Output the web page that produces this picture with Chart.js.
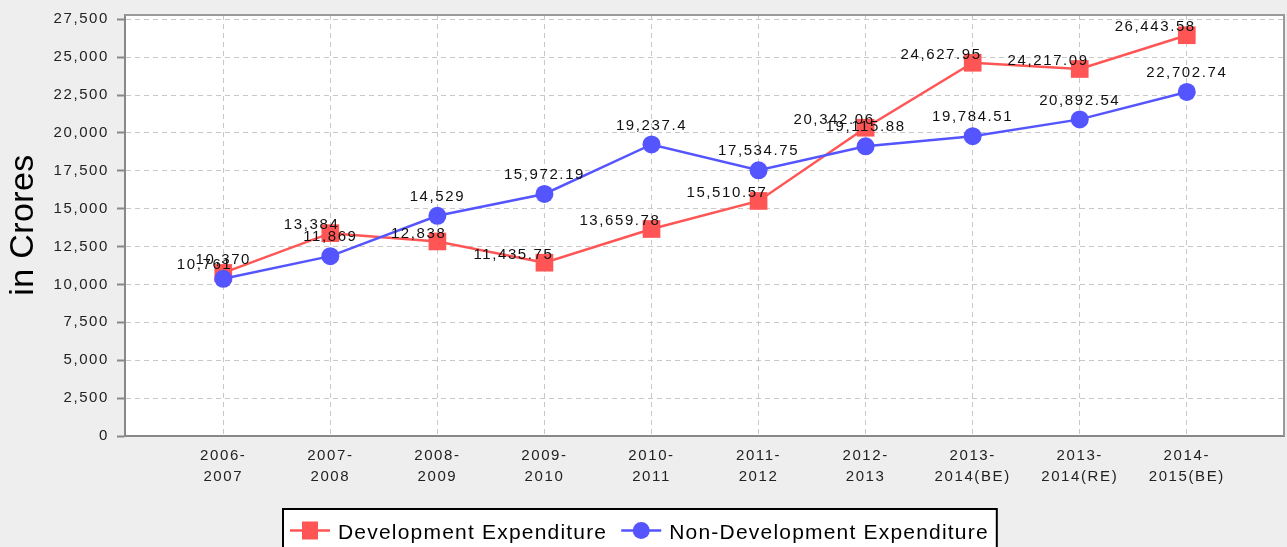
<!DOCTYPE html>
<html><head><meta charset="utf-8">
<script src="https://cdn.jsdelivr.net/npm/chart.js@4/dist/chart.umd.min.js"></script>
<style>html,body{margin:0;padding:0;background:#eeeeee;overflow:hidden;} canvas{display:block;}</style>
</head><body>
<canvas id="c" width="1287" height="547"></canvas>
<script>
const categories = ['2006-2007','2007-2008','2008-2009','2009-2010','2010-2011','2011-2012','2012-2013','2013-2014(BE)','2013-2014(RE)','2014-2015(BE)'];
const developmentExpenditure = [10761, 13384, 12838, 11435.75, 13659.78, 15510.57, 20342.06, 24627.95, 24217.09, 26443.58];
const nonDevelopmentExpenditure = [10370, 11869, 14529, 15972.19, 19237.4, 17534.75, 19115.88, 19784.51, 20892.54, 22702.74];
const yTickValues = [0, 2500, 5000, 7500, 10000, 12500, 15000, 17500, 20000, 22500, 25000, 27500];
const seriesNames = ['Development Expenditure', 'Non-Development Expenditure'];
const yAxisTitle = 'in Crores';

const FONT = '"Liberation Sans", Arial, Helvetica, sans-serif';
const RED = '#ff5555';
const BLUE = '#5555ff';
const LS = '1.6px';
const fmt = v => v.toLocaleString('en-US', {maximumFractionDigits: 2});

const basePlugin = {
  id: 'base',
  beforeUpdate(chart) { chart.ctx.letterSpacing = LS; },
  beforeLayout(chart) { chart.ctx.letterSpacing = LS; },
  beforeDraw(chart) {
    const {ctx, chartArea: a} = chart;
    ctx.letterSpacing = LS;
    ctx.save();
    ctx.fillStyle = '#ffffff';
    ctx.fillRect(a.left, a.top, a.right - a.left, a.bottom - a.top);
    ctx.restore();
  },
  beforeDatasetsDraw(chart) {
    const {ctx, chartArea: a} = chart;
    ctx.save();
    ctx.strokeStyle = '#9a9a9a';
    ctx.lineWidth = 2;
    ctx.beginPath();
    ctx.moveTo(a.left, a.top);
    ctx.lineTo(a.right, a.top);
    ctx.lineTo(a.right, a.bottom);
    ctx.stroke();
    ctx.restore();
  },
  afterDatasetsDraw(chart) {
    const ctx = chart.ctx;
    ctx.save();
    ctx.font = '15px ' + FONT;
    ctx.fillStyle = '#111';
    ctx.letterSpacing = LS;
    ctx.textBaseline = 'middle';
    chart.data.datasets.forEach((ds, di) => {
      const meta = chart.getDatasetMeta(di);
      meta.data.forEach((pt, i) => {
        const txt = fmt(ds.data[i].y);
        if (ds.labelStyle === 'right') {
          ctx.textAlign = 'right';
          ctx.fillText(txt, pt.x + 9, pt.y - 8);
        } else {
          ctx.textAlign = 'center';
          ctx.fillText(txt, pt.x, pt.y - 19);
        }
      });
    });
    ctx.restore();
  },
  afterDraw(chart) {
    const ctx = chart.ctx;
    // y axis title
    ctx.save();
    ctx.letterSpacing = '0.4px';
    ctx.font = '34px ' + FONT;
    ctx.fillStyle = '#000';
    ctx.textAlign = 'center';
    ctx.textBaseline = 'alphabetic';
    ctx.translate(33, 225);
    ctx.rotate(-Math.PI / 2);
    ctx.fillText(yAxisTitle, 0, 0);
    ctx.restore();

    // legend
    ctx.save();
    ctx.letterSpacing = '1.2px';
    ctx.font = '21px ' + FONT;
    const w = seriesNames.map(s => ctx.measureText(s).width);
    const padL = 7, mk = 40, gapT = 8, gapI = 14, padR = 8;
    const boxW = padL + mk + gapT + w[0] + gapI + mk + gapT + w[1] + padR;
    const boxX = Math.round(640 - boxW / 2), boxY = 509, boxH = 46;
    ctx.fillStyle = '#ffffff';
    ctx.fillRect(boxX, boxY, boxW, boxH);
    ctx.strokeStyle = '#000';
    ctx.lineWidth = 2;
    ctx.strokeRect(boxX, boxY, boxW, boxH);
    const cy = 530.5;
    let x = boxX + padL;
    const colors = [RED, BLUE];
    for (let k = 0; k < 2; k++) {
      ctx.strokeStyle = colors[k];
      ctx.fillStyle = colors[k];
      ctx.lineWidth = 2.5;
      ctx.beginPath();
      ctx.moveTo(x, cy); ctx.lineTo(x + mk, cy); ctx.stroke();
      if (k === 0) {
        ctx.fillRect(x + mk / 2 - 8, cy - 9, 16, 18);
      } else {
        ctx.beginPath(); ctx.arc(x + mk / 2, cy, 8.5, 0, Math.PI * 2); ctx.fill();
      }
      ctx.fillStyle = '#000';
      ctx.textAlign = 'left';
      ctx.textBaseline = 'alphabetic';
      ctx.fillText(seriesNames[k], x + mk + gapT, 538.5);
      x += mk + gapT + w[k] + gapI;
    }
    ctx.restore();
  }
};

const toPoints = arr => arr.map((v, i) => ({x: i, y: v}));

new Chart(document.getElementById('c'), {
  type: 'line',
  data: {
    datasets: [
      {
        label: seriesNames[0], data: toPoints(developmentExpenditure), order: 2, labelStyle: 'right',
        borderColor: RED, backgroundColor: RED, borderWidth: 2.5,
        pointStyle: 'rect', pointRadius: 12.5, pointHoverRadius: 12.5, pointBorderWidth: 0,
        tension: 0, fill: false
      },
      {
        label: seriesNames[1], data: toPoints(nonDevelopmentExpenditure), order: 1, labelStyle: 'center',
        borderColor: BLUE, backgroundColor: BLUE, borderWidth: 2.5,
        pointStyle: 'circle', pointRadius: 9, pointHoverRadius: 9, pointBorderWidth: 0,
        tension: 0, fill: false
      }
    ]
  },
  options: {
    responsive: false,
    animation: false,
    events: [],
    layout: {autoPadding: false, padding: {top: 15, right: 3, bottom: 0, left: 0}},
    plugins: {legend: {display: false}, tooltip: {enabled: false}, title: {display: false}},
    scales: {
      x: {
        type: 'linear', min: -0.918, max: 9.908,
        afterBuildTicks: axis => { axis.ticks = categories.map((_, i) => ({value: i})); },
        afterFit: axis => { axis.height = 111; axis.paddingLeft = 0; axis.paddingRight = 0; },
        grid: {color: '#c8c8c8', lineWidth: 1, drawTicks: false},
        border: {display: true, color: '#888888', width: 2, dash: [5, 4]},
        ticks: {
          padding: 10, color: '#222', autoSkip: false, maxRotation: 0,
          font: {family: FONT, size: 15, lineHeight: 1.35},
          callback: v => {
            const s = categories[v];
            if (s === undefined) return '';
            const j = s.indexOf('-');
            return [s.slice(0, j + 1), s.slice(j + 1)];
          }
        }
      },
      y: {
        min: 0, max: 27780,
        afterBuildTicks: axis => { axis.ticks = yTickValues.map(v => ({value: v})); },
        afterFit: axis => { axis.width = 125; axis.paddingTop = 0; axis.paddingBottom = 0; },
        grid: {color: '#c8c8c8', lineWidth: 1, tickLength: 8, tickColor: '#888888', tickWidth: 2, tickBorderDash: []},
        border: {display: true, color: '#888888', width: 2, dash: [5, 4]},
        ticks: {padding: 8, color: '#222', font: {family: FONT, size: 15}, callback: v => v.toLocaleString('en-US')}
      }
    }
  },
  plugins: [basePlugin]
});
</script>
</body></html>
